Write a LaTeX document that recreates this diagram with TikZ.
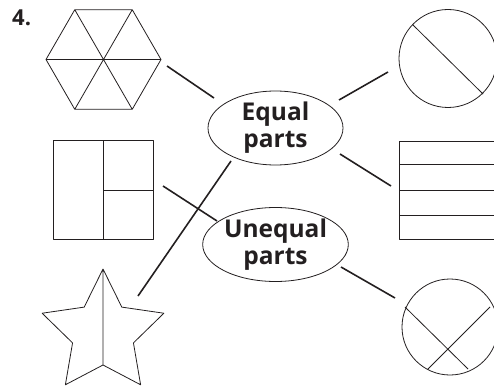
\documentclass[tikz,border=0pt]{standalone}
\usepackage{fontspec}
\setmainfont{Open Sans}
\usetikzlibrary{shapes.geometric}
\definecolor{ink}{HTML}{231F20}

\begin{document}
\begin{tikzpicture}[x=1pt,y=-1pt,
    figure/.style={draw=ink,line width=0.8pt,line join=round},
    answer/.style={ellipse,draw=ink,line width=0.8pt,minimum width=135pt,minimum height=74pt,
        inner sep=0pt,align=center,font=\bfseries\fontsize{24.5}{29}\selectfont,text=ink},
    link/.style={draw=ink,line width=1.6pt}]
   \useasboundingbox (0,0) rectangle (494,390);
   \node[anchor=north west,inner sep=0pt,font=\bfseries\fontsize{22}{22}\selectfont,text=ink] (num) at (12,10) {4.};
   % answers
   \node[answer] (equal) at (275.5,128) {Equal\\[-2pt]parts};
   \node[answer] (unequal) at (275.5,244.5) {Unequal\\[-2pt]parts};
   % shapes on the left
   \draw[figure,shift={(103.5,59.5)}] (0:57.5) -- (60:57.5) -- (120:57.5) -- (180:57.5) -- (240:57.5) -- (300:57.5) -- cycle
      (0:57.5) -- (180:57.5) (60:57.5) -- (240:57.5) (120:57.5) -- (300:57.5);
   \draw[figure] (53,140) rectangle (153,239) (103,140) -- (103,239) (103,190) -- (153,190);
   \draw[figure,shift={(103,333)}] (-90:64) -- (-54:32) -- (-18:64) -- (18:32) -- (54:64) -- (90:32)
      -- (126:64) -- (162:32) -- (198:64) -- (234:32) -- cycle (-90:64) -- (90:32);
   % shapes on the right
   \draw[figure] (448,58.5) circle (49) (413,25) -- (483,94);
   \draw[figure] (500,141) -- (399,141) -- (399,239) -- (500,239)
      (399,164.5) -- (500,164.5) (399,190) -- (500,190) (399,215.5) -- (500,215.5);
   \draw[figure] (450,327) circle (48) (405,307) -- (468,369) (490,307) -- (428,369);
   % ends of the links
   \coordinate (hex) at (167,66);
   \coordinate (sq) at (163,186);
   \coordinate (star) at (138,296);
   \coordinate (c1) at (388,72);
   \coordinate (rect) at (391,186);
   \coordinate (c2) at (395,298);
   \coordinate (e1) at (214,98);
   \coordinate (e2) at (231,161);
   \coordinate (e3) at (339,100);
   \coordinate (e4) at (340,154);
   \coordinate (u1) at (217,221);
   \coordinate (u2) at (341,267);
   \path[link]
    (hex) edge (e1)
    (sq) edge (u1)
    (star) edge (e2)
    (e3) edge (c1)
    (e4) edge (rect)
    (u2) edge (c2);
\end{tikzpicture}
\end{document}
